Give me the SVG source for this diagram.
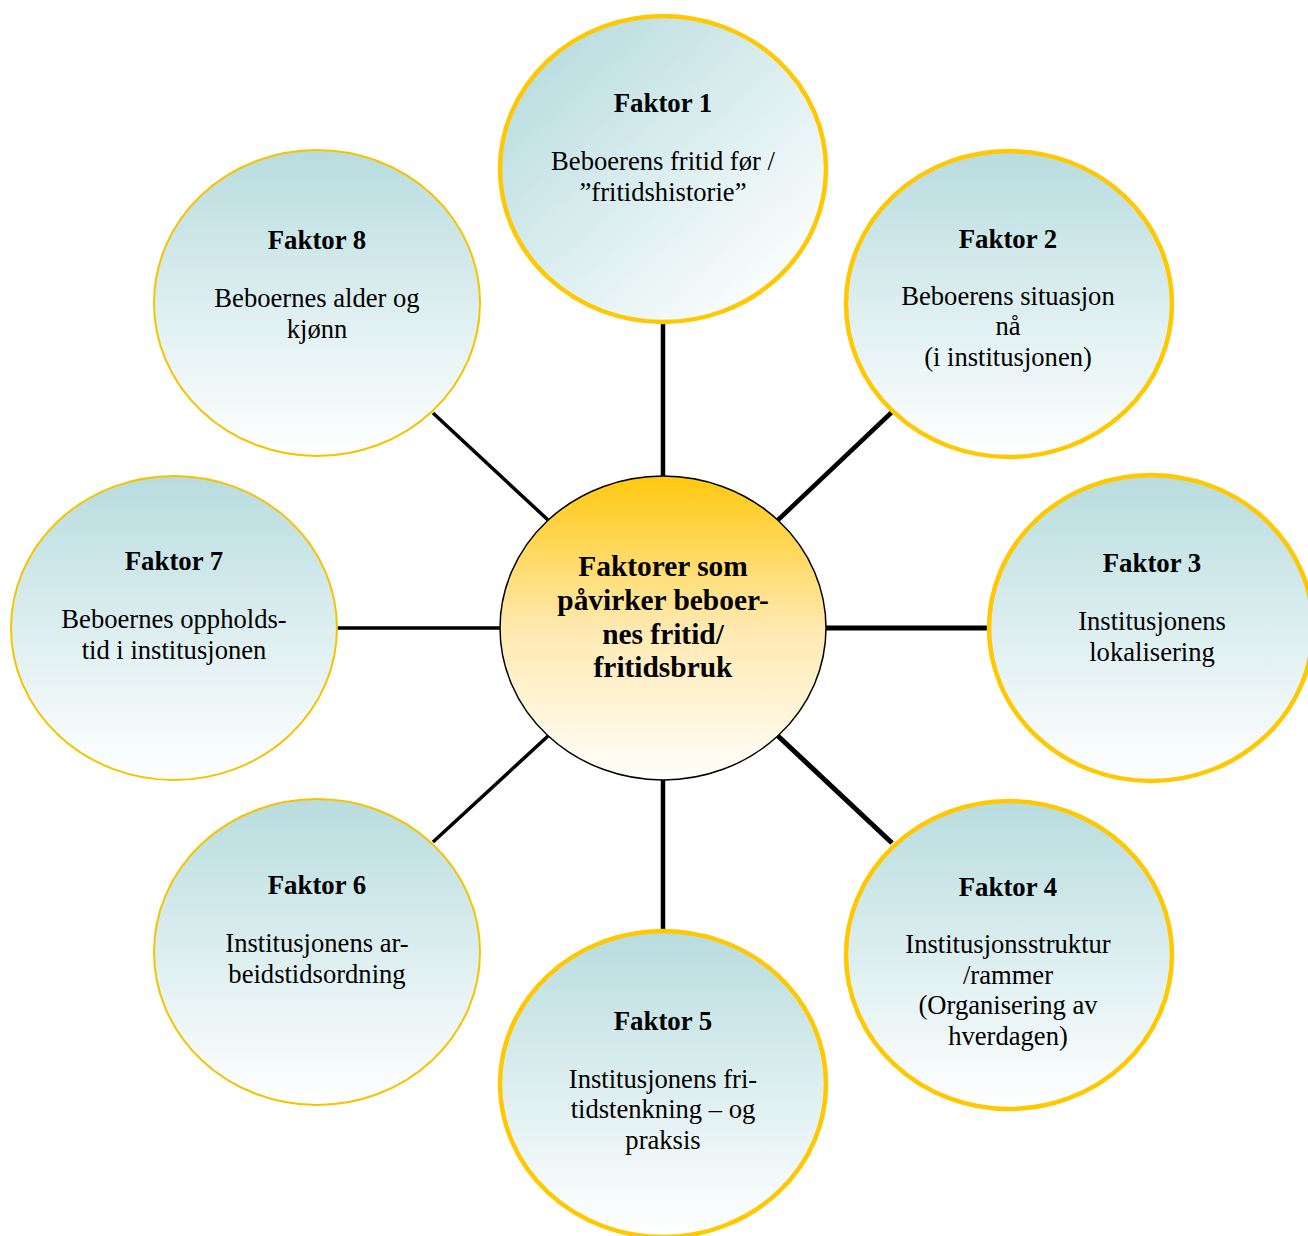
<svg xmlns="http://www.w3.org/2000/svg" width="1308" height="1236" viewBox="0 0 1308 1236">
<defs>
<linearGradient id="gv" x1="0" y1="0" x2="0" y2="1">
<stop offset="0" stop-color="#b8dcdf"/>
<stop offset="0.55" stop-color="#e0f0f1"/>
<stop offset="1" stop-color="#ffffff"/>
</linearGradient>
<linearGradient id="gd" x1="0.1" y1="0.1" x2="0.9" y2="0.95">
<stop offset="0" stop-color="#b8dcdf"/>
<stop offset="0.55" stop-color="#e0f0f1"/>
<stop offset="1" stop-color="#ffffff"/>
</linearGradient>
<linearGradient id="gc" x1="0" y1="0" x2="0" y2="1">
<stop offset="0" stop-color="#ffc80f"/>
<stop offset="0.5" stop-color="#ffe9b0"/>
<stop offset="1" stop-color="#fffefb"/>
</linearGradient>
<style>
.thick{stroke:#ffc800;stroke-width:4.5;}
.thin{stroke:#f5c400;stroke-width:2;}
.t{font-family:"Liberation Serif","Times New Roman",serif;font-size:26.6px;fill:#000;text-anchor:middle;}
.b{font-weight:bold;font-size:26.8px;}
.c{font-family:"Liberation Serif","Times New Roman",serif;font-size:29.4px;font-weight:bold;fill:#000;text-anchor:middle;}
.ln{stroke:#000;fill:none;}
</style>
</defs>
<rect width="1308" height="1236" fill="#ffffff"/>
<g id="connectors">
<line class="ln" x1="663" y1="323" x2="663" y2="478" stroke-width="4.5"/>
<line class="ln" x1="892" y1="412" x2="778" y2="520" stroke-width="4.5"/>
<line class="ln" x1="826" y1="628" x2="990" y2="628" stroke-width="5"/>
<line class="ln" x1="778" y1="736" x2="892" y2="843" stroke-width="5"/>
<line class="ln" x1="663" y1="779" x2="663" y2="932" stroke-width="4.5"/>
<line class="ln" x1="548" y1="736" x2="433" y2="842" stroke-width="3.5"/>
<line class="ln" x1="337" y1="628" x2="501" y2="628" stroke-width="3.5"/>
<line class="ln" x1="433" y1="413" x2="548" y2="520" stroke-width="3.5"/>
</g>
<g id="center">
<ellipse cx="663" cy="628" rx="163" ry="152" fill="url(#gc)" stroke="#000" stroke-width="1.5"/>
<text class="c" x="663" y="576">Faktorer som</text>
<text class="c" x="663" y="610">påvirker beboer-</text>
<text class="c" x="663" y="644">nes fritid/</text>
<text class="c" x="663" y="677">fritidsbruk</text>
</g>
<g id="faktor1">
<ellipse cx="663" cy="169" rx="163" ry="153" fill="url(#gd)" class="thick"/>
<text class="t b" x="663" y="112">Faktor 1</text>
<text class="t" x="663" y="170">Beboerens fritid før /</text>
<text class="t" x="663" y="201">”fritidshistorie”</text>
</g>
<g id="faktor2">
<ellipse cx="1009" cy="304" rx="163" ry="153" fill="url(#gv)" class="thick"/>
<text class="t b" x="1008" y="248">Faktor 2</text>
<text class="t" x="1008" y="305">Beboerens situasjon</text>
<text class="t" x="1008" y="335">nå</text>
<text class="t" x="1008" y="366">(i institusjonen)</text>
</g>
<g id="faktor3">
<ellipse cx="1151" cy="628" rx="162" ry="153" fill="url(#gv)" class="thick"/>
<text class="t b" x="1152" y="572">Faktor 3</text>
<text class="t" x="1152" y="630">Institusjonens</text>
<text class="t" x="1152" y="661">lokalisering</text>
</g>
<g id="faktor4">
<ellipse cx="1009" cy="955" rx="163" ry="154" fill="url(#gv)" class="thick"/>
<text class="t b" x="1008" y="896">Faktor 4</text>
<text class="t" x="1008" y="953">Institusjonsstruktur</text>
<text class="t" x="1008" y="984">/rammer</text>
<text class="t" x="1008" y="1014">(Organisering av</text>
<text class="t" x="1008" y="1045">hverdagen)</text>
</g>
<g id="faktor5">
<ellipse cx="663" cy="1084" rx="163" ry="153" fill="url(#gv)" class="thick"/>
<text class="t b" x="663" y="1030">Faktor 5</text>
<text class="t" x="663" y="1088">Institusjonens fri-</text>
<text class="t" x="663" y="1118">tidstenkning – og</text>
<text class="t" x="663" y="1149">praksis</text>
</g>
<g id="faktor6">
<ellipse cx="317" cy="952" rx="163" ry="153" fill="url(#gv)" class="thin"/>
<text class="t b" x="317" y="894">Faktor 6</text>
<text class="t" x="317" y="952">Institusjonens ar-</text>
<text class="t" x="317" y="983">beidstidsordning</text>
</g>
<g id="faktor7">
<ellipse cx="174" cy="628" rx="163" ry="152" fill="url(#gv)" class="thin"/>
<text class="t b" x="174" y="570">Faktor 7</text>
<text class="t" x="174" y="628">Beboernes oppholds-</text>
<text class="t" x="174" y="659">tid i institusjonen</text>
</g>
<g id="faktor8">
<ellipse cx="317" cy="303" rx="163" ry="153" fill="url(#gv)" class="thin"/>
<text class="t b" x="317" y="249">Faktor 8</text>
<text class="t" x="317" y="307">Beboernes alder og</text>
<text class="t" x="317" y="338">kjønn</text>
</g>
</svg>
